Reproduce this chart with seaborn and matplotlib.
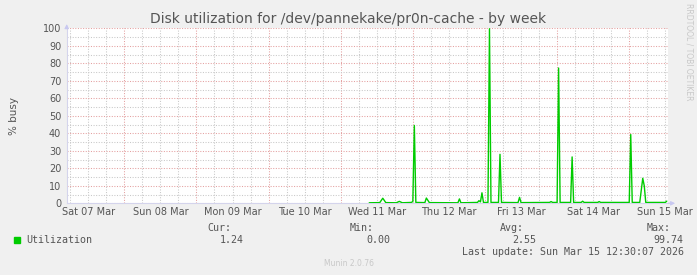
import matplotlib
matplotlib.use("Agg")
import matplotlib.pyplot as plt
import matplotlib.dates as mdates
from matplotlib.ticker import MultipleLocator, FuncFormatter, NullFormatter
import pandas as pd
import seaborn as sns

# ---- data ----
times = [
    "2026-03-11 09:30", "2026-03-11 13:00", "2026-03-11 14:00", "2026-03-11 15:00",
    "2026-03-11 18:30", "2026-03-11 19:30", "2026-03-11 20:30", "2026-03-11 23:30",
    "2026-03-12 00:00", "2026-03-12 00:30", "2026-03-12 01:00", "2026-03-12 04:00",
    "2026-03-12 04:30", "2026-03-12 05:30", "2026-03-12 15:00", "2026-03-12 15:30",
    "2026-03-12 16:00", "2026-03-12 21:30", "2026-03-12 22:00", "2026-03-12 22:30",
    "2026-03-12 23:00", "2026-03-12 23:30", "2026-03-13 01:00", "2026-03-13 01:30",
    "2026-03-13 02:00", "2026-03-13 04:30", "2026-03-13 05:00", "2026-03-13 05:30",
    "2026-03-13 11:00", "2026-03-13 11:30", "2026-03-13 12:00", "2026-03-13 21:30",
    "2026-03-13 22:00", "2026-03-13 22:30", "2026-03-14 00:00", "2026-03-14 00:30",
    "2026-03-14 01:00", "2026-03-14 04:30", "2026-03-14 05:00", "2026-03-14 05:30",
    "2026-03-14 08:00", "2026-03-14 08:30", "2026-03-14 09:00", "2026-03-14 13:30",
    "2026-03-14 14:00", "2026-03-14 14:30", "2026-03-15 00:00", "2026-03-15 00:30",
    "2026-03-15 01:00", "2026-03-15 03:30", "2026-03-15 04:30", "2026-03-15 05:00",
    "2026-03-15 05:30", "2026-03-15 12:00", "2026-03-15 12:30",
]
utilization = [
    0.3, 0.4, 2.9, 0.4,
    0.3, 1.1, 0.3, 0.5,
    1.0, 44.5, 0.5, 0.4,
    3.0, 0.4, 0.3, 2.5,
    0.3, 0.5, 1.5, 0.8,
    6.0, 0.5, 0.5, 99.74,
    0.5, 0.5, 28.0, 0.5,
    0.4, 3.4, 0.4, 0.5,
    1.0, 0.5, 0.5, 77.3,
    0.5, 0.5, 26.5, 0.5,
    0.5, 1.2, 0.5, 0.5,
    1.0, 0.5, 0.5, 39.3,
    0.5, 0.5, 14.3, 10.0,
    0.5, 0.5, 1.24,
]
title = "Disk utilization for /dev/pannekake/pr0n-cache - by week"
series_name = "Utilization"
stat_labels = ["Cur:", "Min:", "Avg:", "Max:"]
stat_values = ["1.24", "0.00", "2.55", "99.74"]
last_update = "Last update: Sun Mar 15 12:30:07 2026"
x_start = "2026-03-07 04:50"
x_end = "2026-03-15 13:00"

df = pd.DataFrame({"time": pd.to_datetime(times), "util": utilization})

# ---- style ----
sns.set_style("white")
plt.rcParams["font.family"] = ["DejaVu Sans"]
BG = "#f0f0f0"
TXT = "#555555"

fig = plt.figure(figsize=(6.97, 2.75), dpi=100, facecolor=BG)
ax = fig.add_axes([66.7 / 697, 1 - 203.3 / 275, (668.3 - 66.7) / 697, (203.3 - 28.3) / 275])
ax.set_facecolor("white")

sns.lineplot(data=df, x="time", y="util", ax=ax, color="#00cc00", lw=1.0, zorder=3)

ax.set_xlim(pd.Timestamp(x_start), pd.Timestamp(x_end))
ax.set_ylim(0, 100)

# y axis grid
ax.yaxis.set_major_locator(MultipleLocator(10))
ax.yaxis.set_minor_locator(MultipleLocator(5))
# x axis grid
ax.xaxis.set_major_locator(mdates.DayLocator())
ax.xaxis.set_major_formatter(NullFormatter())
ax.xaxis.set_minor_locator(mdates.HourLocator(byhour=[6, 12, 18]))

def noon_fmt(v, pos):
    d = mdates.num2date(v)
    return d.strftime("%a %d %b") if d.hour == 12 else ""

ax.xaxis.set_minor_formatter(FuncFormatter(noon_fmt))

dot = (0, (1, 1.5))
ax.grid(which="major", color="#e4a0a0", linestyle=dot, lw=0.75, zorder=1)
ax.grid(which="minor", color="#c8c8c8", linestyle=dot, lw=0.75, zorder=1)
ax.set_axisbelow(True)

ax.tick_params(axis="y", which="major", length=2, color="#bbbbbb", labelsize=7,
               labelcolor=TXT, pad=2)
ax.tick_params(axis="y", which="minor", length=0)
ax.tick_params(axis="x", which="major", length=3, color="#e8a8a8", direction="out")
ax.tick_params(axis="x", which="minor", length=0, labelsize=7, labelcolor=TXT, pad=3)

for s in ["top", "right"]:
    ax.spines[s].set_visible(False)
for s in ["left", "bottom"]:
    ax.spines[s].set_color("#d4d4ec")
    ax.spines[s].set_linewidth(0.8)

# axis arrows
ax.annotate("", xy=(0, 1.04), xytext=(0, 0.985), xycoords="axes fraction",
            arrowprops=dict(arrowstyle="-|>", color="#c8c8f0", lw=0.8,
                            mutation_scale=6), annotation_clip=False)
ax.annotate("", xy=(1.016, 0), xytext=(0.995, 0), xycoords="axes fraction",
            arrowprops=dict(arrowstyle="-|>", color="#c8c8f0", lw=0.8,
                            mutation_scale=6), annotation_clip=False)

ax.set_xlabel("")
ax.set_ylabel("% busy", fontsize=7.5, color=TXT)
ax.yaxis.set_label_coords(-0.08, 0.5)

# title and side texts
fig.text(348.5 / 697, 1 - 19 / 275, title, ha="center", va="center",
         fontsize=10, color=TXT)
fig.text(689 / 697, 1 - 52 / 275, "RRDTOOL / TOBI OETIKER", rotation=270,
         ha="center", va="center", fontsize=5.5, color="#c8c8c8")
fig.text(348.5 / 697, 1 - 264 / 275, "Munin 2.0.76", ha="center", va="center",
         fontsize=5.5, color="#c8c8c8")

# legend / stats
mono = "DejaVu Sans Mono"
fig.patches.append(plt.Rectangle((14 / 697, 1 - 242.5 / 275), 5.5 / 697, 5.5 / 275,
                                 transform=fig.transFigure, color="#00cc00"))
fig.text(26 / 697, 1 - 240 / 275, series_name, family=mono, fontsize=7.2,
         color=TXT, ha="left", va="center")
label_right = [231.5, 373.5, 523.5, 670.5]
value_right = [243.5, 390.5, 536.5, 683.5]
for lab, val, lx, vx in zip(stat_labels, stat_values, label_right, value_right):
    fig.text(lx / 697, 1 - 228 / 275, lab, family=mono, fontsize=7.2,
             color=TXT, ha="right", va="center")
    fig.text(vx / 697, 1 - 240 / 275, val, family=mono, fontsize=7.2,
             color=TXT, ha="right", va="center")
fig.text(683.5 / 697, 1 - 252 / 275, last_update, family=mono, fontsize=7.2,
         color=TXT, ha="right", va="center")

fig.savefig("out.png", dpi=100, facecolor=BG)
